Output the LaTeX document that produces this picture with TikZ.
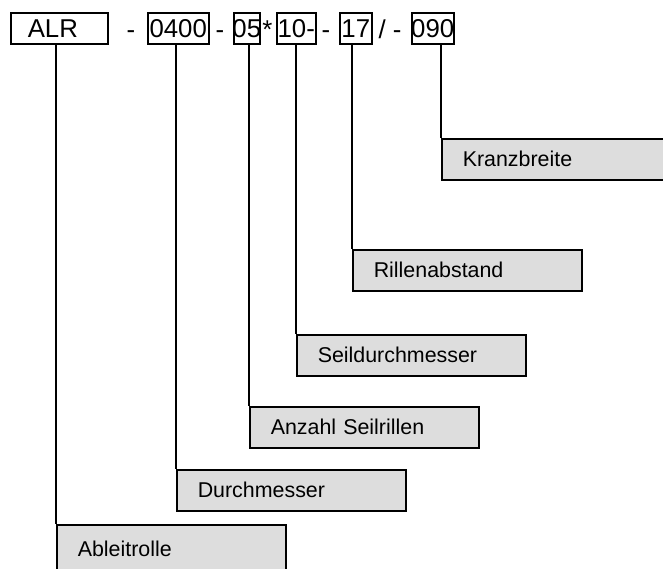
\documentclass[tikz,border=0pt]{standalone}
\usepackage{fontspec}
\setmainfont{Liberation Sans}
\usetikzlibrary{positioning, calc}
\definecolor{lblgray}{RGB}{221, 221, 221}
\tikzset{
  codebox/.style={draw=black, line width=1.5pt, inner xsep=-2pt, inner ysep=0pt,
    anchor=west, minimum height=31pt, font=\fontsize{25.8}{30}\selectfont},
  codesep/.style={inner sep=0pt, anchor=base, font=\fontsize{25.8}{30}\selectfont},
  lblbox/.style={draw=black, line width=1.5pt, fill=lblgray, anchor=north west,
    minimum height=41pt, inner xsep=21pt, text width=187pt, align=left,
    font=\fontsize{21.4}{25}\selectfont},
  lead/.style={draw=black, line width=1.5pt},
}
\begin{document}
\begin{tikzpicture}[x=1pt, y=-1pt]
\useasboundingbox (0,0) rectangle (663,568);
\clip (0,0) rectangle (663,568);

\node[codebox, minimum width=97pt, inner xsep=17pt, text width=63pt, align=left] (alr) at (10,28.5) {ALR};
\node[codebox, minimum width=61pt] (c0400) at (147,28.5) {0400};
\node[codebox, minimum width=26pt] (c05) at (233,28.5) {05};
\node[codebox, minimum width=39pt] (c10) at (276,28.5) {10-};
\node[codebox, minimum width=32pt] (c17) at (339,28.5) {17};
\node[codebox, minimum width=42pt] (c090) at (411,28.5) {090};

\node[codesep] (s1) at (131,38.3) {-};
\node[codesep] (s2) at (220,38.3) {-};
\node[codesep] (s3) at (267.5,38.3) {*};
\node[codesep] (s4) at (326,38.3) {-};
\node[codesep] (s5) at (390,38.3) {/ -};

\node[lblbox] (kranz) at (441,138) {Kranzbreite};
\node[lblbox] (rillen) at (352,249) {Rillenabstand};
\node[lblbox] (seil) at (296,334) {Seildurchmesser};
\node[lblbox] (anzahl) at (249,406) {Anzahl Seilrillen};
\node[lblbox] (durch) at (176,469) {Durchmesser};
\node[lblbox, minimum height=48pt] (ableit) at (56,524) {Ableitrolle};

\draw[lead] (alr.south -| ableit.north west) -- (ableit.north west);
\draw[lead] (c0400.south -| durch.north west) -- (durch.north west);
\draw[lead] (c05.south -| anzahl.north west) -- (anzahl.north west);
\draw[lead] (c10.south -| seil.north west) -- (seil.north west);
\draw[lead] (c17.south -| rillen.north west) -- (rillen.north west);
\draw[lead] (c090.south -| kranz.north west) -- (kranz.north west);

\end{tikzpicture}
\end{document}
